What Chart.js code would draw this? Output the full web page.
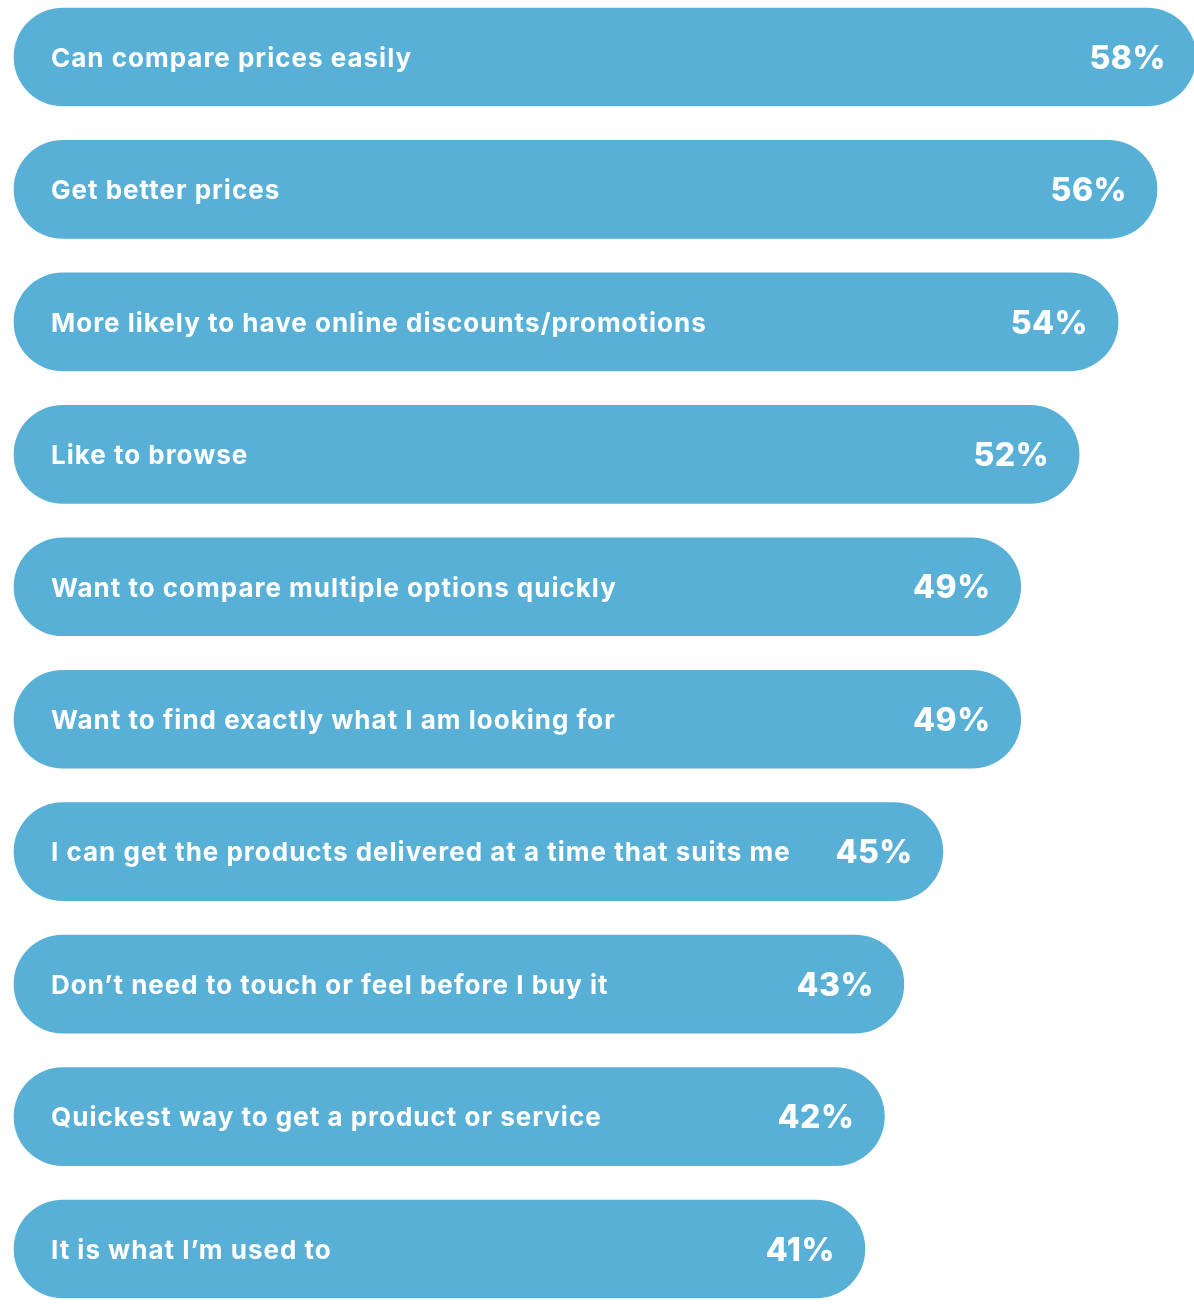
<!DOCTYPE html>
<html>
<head>
<meta charset="utf-8">
<script src="https://cdn.jsdelivr.net/npm/chart.js@4"></script>
<style>
  html, body { margin: 0; padding: 0; background: #fff; overflow: hidden; }
  canvas { display: block; }
</style>
</head>
<body>
<canvas id="razones" width="1194" height="1304"></canvas>
<script>
const categorias = [
    'Can compare prices easily',
    'Get better prices',
    'More likely to have online discounts/promotions',
    'Like to browse',
    'Want to compare multiple options quickly',
    'Want to find exactly what I am looking for',
    'I can get the products delivered at a time that suits me',
    'Don\u2019t need to touch or feel before I buy it',
    'Quickest way to get a product or service',
    'It is what I\u2019m used to'
];
const valores = [58, 56, 54, 52, 49, 49, 45, 43, 42, 41];
const etiquetas = valores.map(v => v + '%');

const azul = '#58b0d6';

// texto dentro de cada barra
const textos = {
    id: 'textos',
    afterDatasetsDraw(chart) {
        const ctx = chart.ctx;
        const barras = chart.getDatasetMeta(0).data;
        ctx.save();
        ctx.fillStyle = '#ffffff';
        ctx.textBaseline = 'middle';
        barras.forEach((bar, i) => {
            ctx.font = '700 26px Inter, "Open Sans", sans-serif';
            ctx.letterSpacing = '1px';
            ctx.textAlign = 'left';
            ctx.fillText(categorias[i], chart.chartArea.left + 37, bar.y + 2);
            ctx.font = '800 32px Inter, "Open Sans", sans-serif';
            ctx.letterSpacing = '0.5px';
            ctx.textAlign = 'right';
            ctx.fillText(etiquetas[i], bar.x - 30, bar.y + 2);
        });
        ctx.restore();
    }
};

const ctx = document.getElementById('razones').getContext('2d');

const razones = new Chart(ctx, {
    type: 'bar',
    data: {
        labels: categorias,
        datasets: [{
            data: valores,
            base: -2.7,
            backgroundColor: azul,
            borderWidth: 0,
            borderRadius: 49,
            borderSkipped: false,
            barThickness: 98,
            clip: false
        }]
    },
    options: {
        indexAxis: 'y',
        responsive: false,
        animation: false,
        layout: {
            padding: { left: 14, right: 0, top: 57, bottom: 55 }
        },
        plugins: {
            legend: { display: false },
            tooltip: { enabled: false }
        },
        scales: {
            x: {
                display: false,
                min: -2.7,
                max: 57.9
            },
            y: {
                display: false,
                offset: false
            }
        }
    },
    plugins: [textos]
});
</script>
</body>
</html>
